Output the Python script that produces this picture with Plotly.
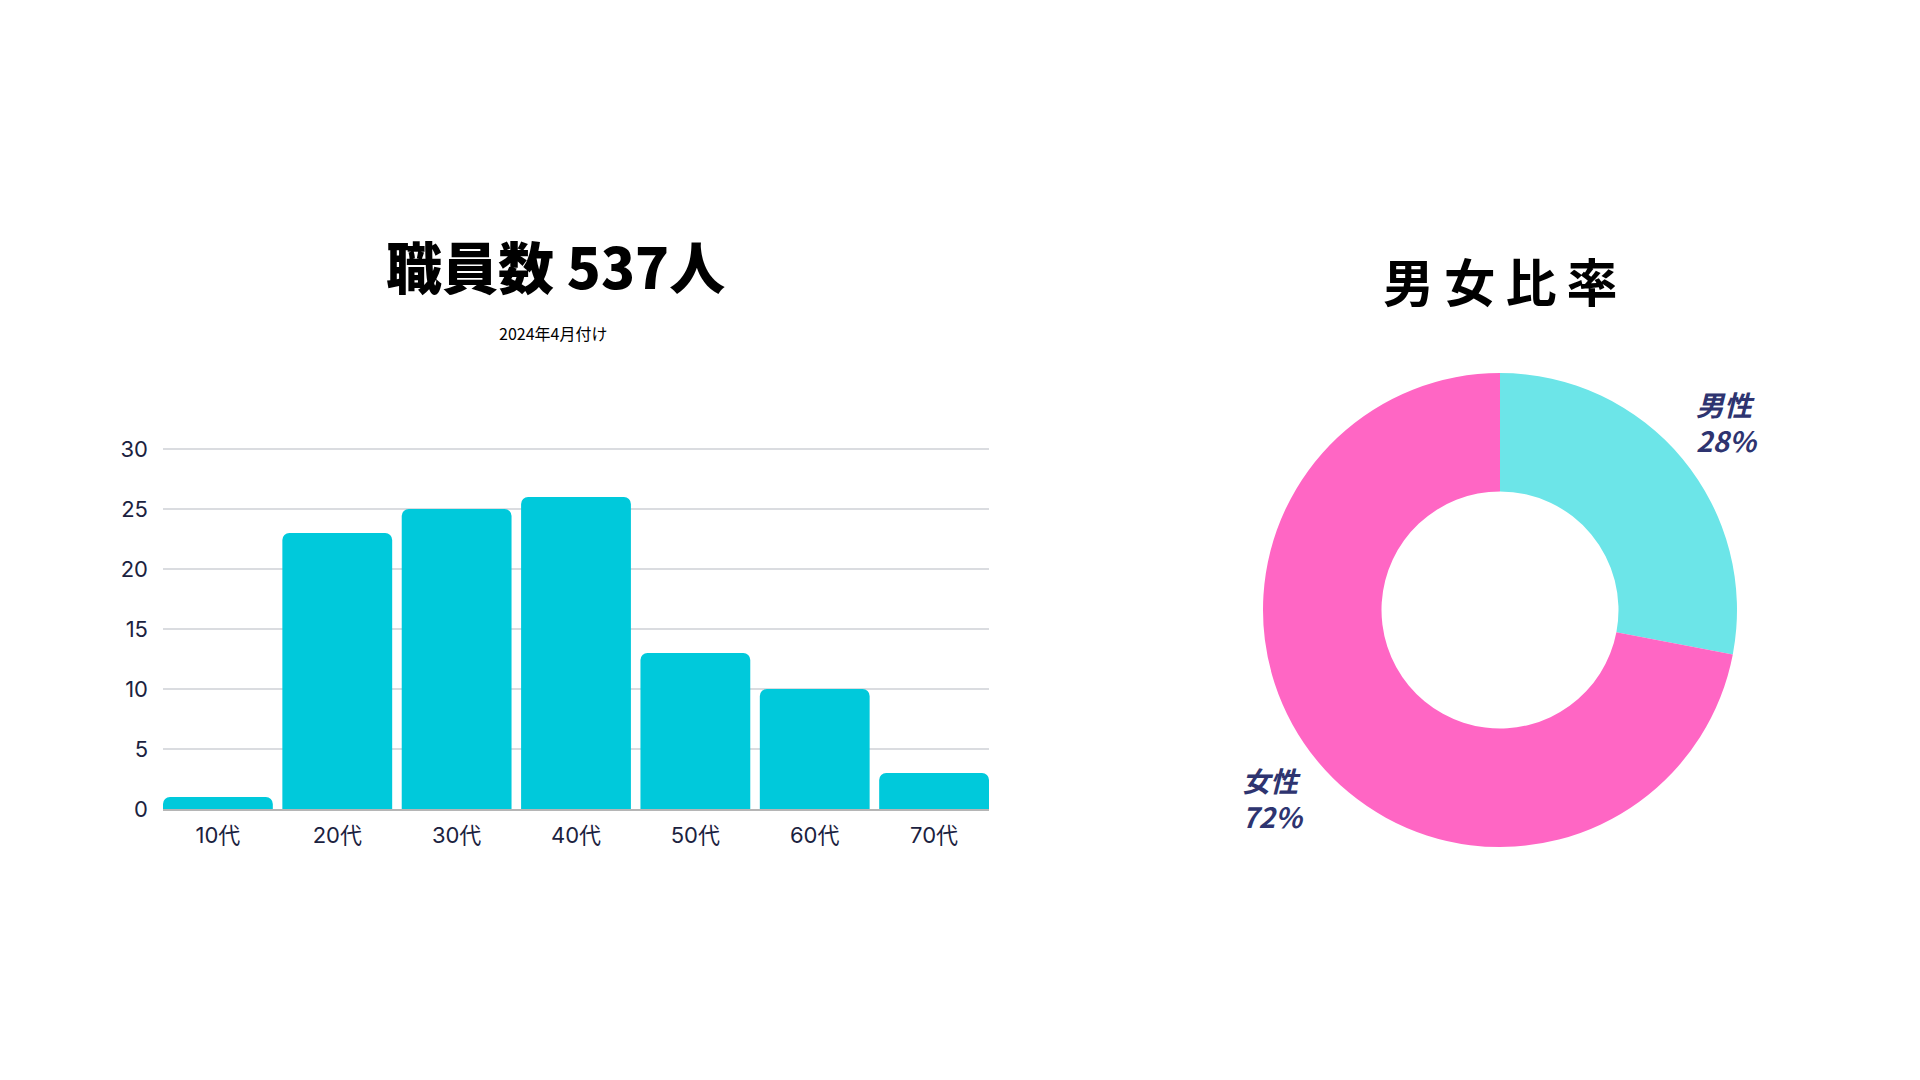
import math
import plotly.graph_objects as go

age_groups = ['10代', '20代', '30代', '40代', '50代', '60代', '70代']
age_counts = [1, 23, 25, 26, 13, 10, 3]

gender_labels = ['男性', '女性']
gender_share = [28, 72]
gender_colors = ['#6CE5E8', '#FF66C4']

y_ticks = [0, 5, 10, 15, 20, 25, 30]

W, H = 1920, 1080
# the page body adds an 8px offset, so positions below are shifted back by it
OFF = 8
BAR_GAP = 0.08


def px(x):
    return (x - OFF) / W


def py(y):
    return 1 - (y - OFF) / H


# donut geometry in screen pixels (centre and outer radius)
pie_cx, pie_cy, pie_r = 1500, 610, 237

fig = go.Figure()

fig.add_trace(go.Bar(x=age_groups,
                     y=age_counts,
                     marker=dict(color='#00C9DB', cornerradius=7, line=dict(width=0)),
                     hoverinfo='x+y',
                     showlegend=False))

fig.add_trace(go.Pie(labels=gender_labels,
                     values=gender_share,
                     hole=0.5,
                     sort=False,
                     direction='clockwise',
                     rotation=0,
                     marker=dict(colors=gender_colors, line=dict(width=0)),
                     textinfo='none',
                     domain=dict(x=[px(pie_cx - pie_r), px(pie_cx + pie_r)],
                                 y=[py(pie_cy + pie_r), py(pie_cy - pie_r)]),
                     showlegend=False))

# outside labels for the donut, placed at each slice's middle angle
annotations = []
total = sum(gender_share)
start = 0
for label, share in zip(gender_labels, gender_share):
    mid = (start + share / 2) / total * 2 * math.pi
    start += share
    dist = pie_r * 1.245
    annotations.append(dict(text=f'{label}<br>{round(share / total * 100)}%',
                            x=px(pie_cx + dist * math.sin(mid)),
                            y=py(pie_cy - dist * math.cos(mid)),
                            xref='paper', yref='paper', showarrow=False,
                            xanchor='center', yanchor='middle', align='left',
                            font=dict(family='Noto Sans CJK JP', size=28, color='#2E3470',
                                      style='italic', weight='bold')))

annotations += [
    dict(text='職員数 537人', x=px(555), y=py(264),
         xref='paper', yref='paper', showarrow=False, xanchor='center', yanchor='middle',
         font=dict(family='Noto Sans CJK JP', size=56, color='#000000', weight=900)),
    dict(text='2024年4月付け', x=px(553), y=py(333),
         xref='paper', yref='paper', showarrow=False, xanchor='center', yanchor='middle',
         font=dict(family='Noto Sans CJK JP', size=16, color='#000000')),
    dict(text='男\u2009女\u2009比\u2009率', x=px(1500), y=py(280),
         xref='paper', yref='paper', showarrow=False, xanchor='center', yanchor='middle',
         font=dict(family='Noto Sans CJK JP', size=51, color='#000000', weight='bold')),
]

fig.update_layout(width=W, height=H,
                  margin=dict(l=0, r=0, t=0, b=0),
                  paper_bgcolor='white',
                  plot_bgcolor='white',
                  bargap=BAR_GAP,
                  font=dict(family='Noto Sans CJK JP', color='#1B2240'),
                  # outer bars sit flush with the plot edges
                  xaxis=dict(domain=[px(163), px(989)],
                             range=[-0.5 + BAR_GAP / 2, len(age_groups) - 0.5 - BAR_GAP / 2],
                             automargin=False,
                             showgrid=False,
                             ticks='',
                             tickfont=dict(family='Inter, Noto Sans CJK JP', size=22, color='#1B2240'),
                             ticklabelstandoff=6,
                             showline=True,
                             linecolor='#B5B5B5',
                             linewidth=2),
                  yaxis=dict(domain=[py(809), py(445.4)],
                             automargin=False,
                             range=[0, 30.3],
                             tickvals=y_ticks,
                             showgrid=True,
                             gridcolor='#DADCE0',
                             gridwidth=2,
                             zeroline=False,
                             ticks='',
                             ticklabelstandoff=14,
                             tickfont=dict(family='Inter, Noto Sans CJK JP', size=22, color='#1B2240')),
                  annotations=annotations)

fig.write_html('out.html')
